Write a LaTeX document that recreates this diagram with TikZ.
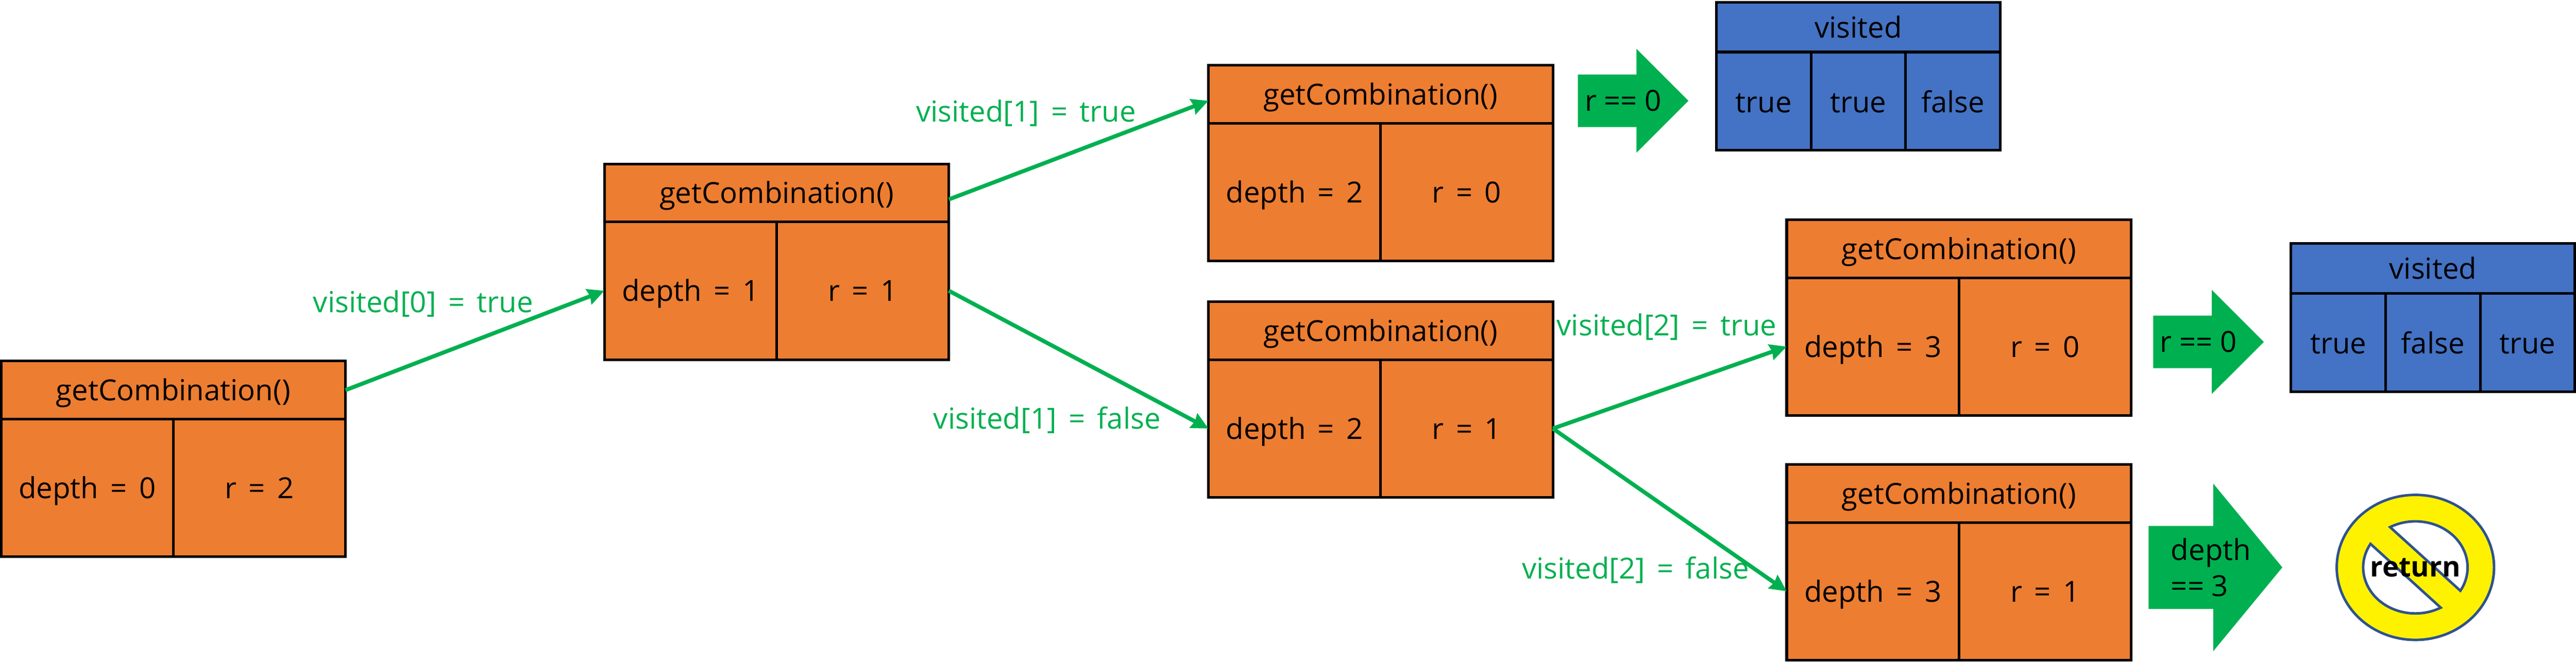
\documentclass[tikz,border=0pt]{standalone}
\usepackage{fontspec}
\setmainfont[WordSpace=1.6]{Open Sans}
\newfontfamily\arrowfont{Open Sans}
\usetikzlibrary{positioning,shapes.geometric,shapes.arrows,arrows.meta}
\definecolor{callfill}{HTML}{ED7D31}
\definecolor{listfill}{HTML}{4472C4}
\definecolor{gogreen}{HTML}{00B050}
\definecolor{stopring}{HTML}{2F528F}
\begin{document}
\begin{tikzpicture}[
    node distance=0pt,
    cellbase/.style={rectangle, draw=black, line width=.72pt, inner sep=0pt, outer sep=0pt,
      font=\fontsize{8}{8}\selectfont, text height=6.2pt, text depth=.4pt},
    callhead/.style={cellbase, fill=callfill, minimum width=95pt, minimum height=16pt},
    callcell/.style={cellbase, fill=callfill, minimum width=47.5pt, minimum height=38pt},
    listhead/.style={cellbase, fill=listfill, minimum width=78.3pt, minimum height=13.7pt},
    listcell/.style={cellbase, fill=listfill, minimum width=26.1pt, minimum height=27.1pt, text depth=0pt},
    passname/.style={font=\fontsize{8}{8}\selectfont, text=gogreen, inner sep=0pt},
    passline/.style={draw=gogreen, line width=1.1pt, -{Stealth[length=4.6pt,width=4.4pt,inset=.4pt]}},
    bigarrow/.style={single arrow, fill=gogreen, inner sep=0pt, outer sep=0pt, single arrow head indent=0pt},
    arrowtext/.style={font=\fontsize{8}{9.9}\selectfont\arrowfont, align=left, inner sep=0pt},
  ]
  \useasboundingbox (0,0) rectangle (710.5pt,-182.5pt);

  \node (call0) [callhead, anchor=north west] at (.3pt,-99.6pt) { getCombination() };
  \node (call0-d) [below=of call0.south west, anchor=north west, callcell] { depth = 0 };
  \node (call0-r) [right=of call0-d.east, anchor=west, callcell] { r = 2 };

  \node (call1) [right=71.4pt of call0.north east, yshift=54.4pt, anchor=north west, callhead] { getCombination() };
  \node (call1-d) [below=of call1.south west, anchor=north west, callcell] { depth = 1 };
  \node (call1-r) [right=of call1-d.east, anchor=west, callcell] { r = 1 };

  \node (call2) [right=71.6pt of call1.north east, yshift=27.2pt, anchor=north west, callhead] { getCombination() };
  \node (call2-d) [below=of call2.south west, anchor=north west, callcell] { depth = 2 };
  \node (call2-r) [right=of call2-d.east, anchor=west, callcell] { r = 0 };

  \node (call3) [below=11.2pt of call2-d.south west, anchor=north west, callhead] { getCombination() };
  \node (call3-d) [below=of call3.south west, anchor=north west, callcell] { depth = 2 };
  \node (call3-r) [right=of call3-d.east, anchor=west, callcell] { r = 1 };

  \node (call4) [right=64.5pt of call3.north east, yshift=22.6pt, anchor=north west, callhead] { getCombination() };
  \node (call4-d) [below=of call4.south west, anchor=north west, callcell] { depth = 3 };
  \node (call4-r) [right=of call4-d.east, anchor=west, callcell] { r = 0 };

  \node (call5) [below=13.5pt of call4-d.south west, anchor=north west, callhead] { getCombination() };
  \node (call5-d) [below=of call5.south west, anchor=north west, callcell] { depth = 3 };
  \node (call5-r) [right=of call5-d.east, anchor=west, callcell] { r = 1 };

  \node (zero1) [right=6.9pt of call2.north east, yshift=-9.8pt, anchor=tail, bigarrow, text height=14.1pt, minimum height=30.5pt, single arrow head extend=7.1pt, single arrow tip angle=90] {};
  \node (zero1-txt) [right=1.7pt of zero1.tail, anchor=west, arrowtext] { r == 0 };
  \node (list1) [right=7.7pt of zero1.tip, yshift=27.15pt, anchor=north west, listhead] { visited };
  \node (list1-a) [below=of list1.south west, anchor=north west, listcell] { true };
  \node (list1-b) [right=of list1-a.east, anchor=west, listcell] { true };
  \node (list1-c) [right=of list1-b.east, anchor=west, listcell] { false };

  \node (zero2) [right=6.1pt of call4.north east, yshift=-33.7pt, anchor=tail, bigarrow, text height=14.1pt, minimum height=30.5pt, single arrow head extend=7.1pt, single arrow tip angle=90] {};
  \node (zero2-txt) [right=1.7pt of zero2.tail, anchor=west, arrowtext] { r == 0 };
  \node (list2) [right=7.5pt of zero2.tip, yshift=27.1pt, anchor=north west, listhead] { visited };
  \node (list2-a) [below=of list2.south west, anchor=north west, listcell] { true };
  \node (list2-b) [right=of list2-a.east, anchor=west, listcell] { false };
  \node (list2-c) [right=of list2-b.east, anchor=west, listcell] { true };

  \node (limit) [right=4.8pt of call5.north east, yshift=-28.4pt, anchor=tail, bigarrow, text height=22.5pt, minimum height=36.9pt, single arrow head extend=11.65pt, single arrow tip angle=101] {};
  \node (limit-txt) [right=6pt of limit.tail, anchor=west, arrowtext] { depth\\== 3 };

  \node (stop) [right=15pt of limit.tip, anchor=west, ellipse, draw=stopring, fill=yellow, line width=.7pt, minimum width=43.4pt, minimum height=40pt, inner sep=0pt, outer sep=0pt] {};
  \filldraw[stopring, fill=white, line width=.7pt, shift={(stop.center)}]
    (119:14.4pt and 12.7pt) arc[start angle=119, end angle=-30.5, x radius=14.4pt, y radius=12.7pt] -- cycle
    (149.3:14.4pt and 12.7pt) arc[start angle=149.3, end angle=299, x radius=14.4pt, y radius=12.7pt] -- cycle;
  \node (stop-txt) [font=\fontsize{7.7}{8}\selectfont\bfseries, inner sep=0pt] at (stop.center) { return };

  \draw[passline] (call0.east) -- (call1-d.west);
  \draw[passline] ([yshift=-1.8pt]call1.east) -- ([yshift=-1.8pt]call2.west);
  \draw[passline] (call1-r.east) -- (call3-d.west);
  \draw[passline] (call3-r.east) -- (call4-d.west);
  \draw[passline] (call3-r.east) -- (call5-d.west);

  \node (pass0) [passname] at (116.7pt,-83.8pt) { visited[0] = true };
  \node (pass1) [passname] at (283pt,-31.2pt) { visited[1] = true };
  \node (pass2) [passname] at (288.8pt,-115.9pt) { visited[1] = false };
  \node (pass3) [passname] at (459.7pt,-90.1pt) { visited[2] = true };
  \node (pass4) [passname] at (451.1pt,-157.2pt) { visited[2] = false };
\end{tikzpicture}
\end{document}
